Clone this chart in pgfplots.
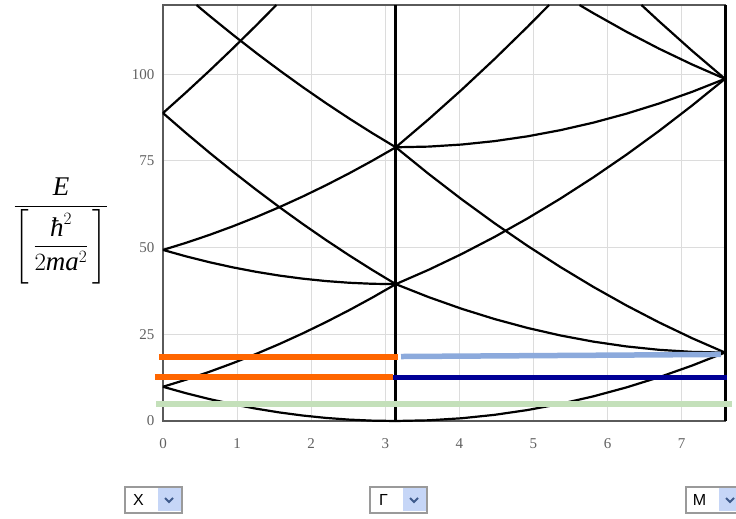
\documentclass[border=0pt]{standalone}
\usepackage{amsmath}
\usepackage{fontspec}
\setmainfont{Liberation Serif}
\newfontfamily\uifont{Liberation Sans}
\usepackage{pgfplots}
\pgfplotsset{compat=1.18}
\definecolor{framec}{HTML}{5A5A5A}
\definecolor{gridc}{HTML}{DCDCDC}
\definecolor{ticklab}{HTML}{606060}
\definecolor{orng}{HTML}{FF6600}
\definecolor{lblue}{HTML}{8CAADC}
\definecolor{dblue}{HTML}{000096}
\definecolor{lgreen}{HTML}{C4E0BA}
\definecolor{boxborder}{HTML}{9A9A9A}
\definecolor{boxfill}{HTML}{C6D6F7}
\definecolor{chev}{HTML}{3F5B8C}
\newcommand\dropbox[2]{%
 \begin{scope}[shift={(#1,6)}]
 \fill[white] (0,0) rectangle (57,26);
 \fill[boxfill] (33,1.5) rectangle (55.5,24.5);
 \draw[boxborder, line width=1.2pt] (0,0) rectangle (57,26);
 \node[font=\uifont\fontsize{16}{16}\selectfont, anchor=center, inner sep=0pt] at (13.5,13) {#2};
 \draw[chev, line width=2pt] (40,15) -- (44,11) -- (48,15);
 \end{scope}}
\newcommand\ti[1]{\text{\itshape #1}}
\begin{document}
\begin{tikzpicture}[x=1pt,y=1pt]
\path[use as bounding box] (0,0) rectangle (736,519);
\begin{axis}[
  at={(163pt,98pt)}, anchor=south west,
  width=562pt, height=416pt, scale only axis,
  xmin=0, xmax=7.58453, ymin=0, ymax=120,
  clip=false,
  xtick={0,1,2,3,4,5,6,7}, ytick={0,25,50,75,100},
  grid=major, major grid style={gridc, line width=1pt},
  axis line style={framec, line width=2.5pt},
  major tick length=0pt,
  tick label style={font=\fontsize{15}{15}\selectfont, text=ticklab},
  /pgf/number format/assume math mode=true,
  xticklabel style={yshift=-14pt},
  yticklabel style={xshift=-5pt},
  cycle list={black,solid,line width=2.2pt,line join=round,mark=none\\},
]
% X -> Gamma
\addplot coordinates {(0,9.870) (0.31416,7.994) (0.62832,6.317) (0.94248,4.836) (1.25664,3.553) (1.57080,2.467) (1.88496,1.579) (2.19911,0.888) (2.51327,0.395) (2.82743,0.099) (3.14159,0)};
\addplot coordinates {(0,9.870) (0.31416,11.942) (0.62832,14.212) (0.94248,16.680) (1.25664,19.344) (1.57080,22.207) (1.88496,25.266) (2.19911,28.523) (2.51327,31.977) (2.82743,35.629) (3.14159,39.478)};
\addplot coordinates {(0,88.826) (0.31416,83.003) (0.62832,77.378) (0.94248,71.949) (1.25664,66.718) (1.57080,61.685) (1.88496,56.849) (2.19911,52.210) (2.51327,47.769) (2.82743,43.525) (3.14159,39.478)};
\addplot coordinates {(0,49.348) (0.31416,47.473) (0.62832,45.795) (0.94248,44.315) (1.25664,43.031) (1.57080,41.946) (1.88496,41.058) (2.19911,40.367) (2.51327,39.873) (2.82743,39.577) (3.14159,39.478)};
\addplot coordinates {(0,49.348) (0.31416,51.421) (0.62832,53.691) (0.94248,56.158) (1.25664,58.823) (1.57080,61.685) (1.88496,64.745) (2.19911,68.002) (2.51327,71.456) (2.82743,75.108) (3.14159,78.957)};
\addplot coordinates {(0,88.826) (0.31416,94.847) (0.62832,101.065) (0.94248,107.480) (1.25664,114.093) (1.5300,120)};
\addplot coordinates {(0.4524,120) (0.62832,116.856) (0.94248,111.428) (1.25664,106.197) (1.57080,101.163) (1.88496,96.327) (2.19911,91.689) (2.51327,87.247) (2.82743,83.003) (3.14159,78.957)};
% Gamma -> M
\addplot coordinates {(3.14159,0) (3.58588,0.197) (4.03018,0.790) (4.47447,1.777) (4.91876,3.158) (5.36306,4.935) (5.80735,7.106) (6.25164,9.672) (6.69594,12.633) (7.14023,15.989) (7.58453,19.739)};
\addplot coordinates {(3.14159,39.478) (3.58588,35.728) (4.03018,32.372) (4.47447,29.411) (4.91876,26.845) (5.36306,24.674) (5.80735,22.897) (6.25164,21.516) (6.69594,20.529) (7.14023,19.937) (7.58453,19.739)};
\addplot coordinates {(3.14159,78.957) (3.58588,71.259) (4.03018,63.955) (4.47447,57.046) (4.91876,50.532) (5.36306,44.413) (5.80735,38.689) (6.25164,33.359) (6.69594,28.424) (7.14023,23.884) (7.58453,19.739)};
\addplot coordinates {(3.14159,39.478) (3.58588,43.624) (4.03018,48.164) (4.47447,53.098) (4.91876,58.428) (5.36306,64.152) (5.80735,70.272) (6.25164,76.785) (6.69594,83.694) (7.14023,90.998) (7.58453,98.696)};
\addplot coordinates {(3.14159,78.957) (3.58588,79.154) (4.03018,79.746) (4.47447,80.733) (4.91876,82.115) (5.36306,83.892) (5.80735,86.063) (6.25164,88.630) (6.69594,91.590) (7.14023,94.946) (7.58453,98.696)};
\addplot coordinates {(3.14159,78.957) (3.58588,87.050) (4.03018,95.538) (4.47447,104.420) (4.91876,113.698) (5.2106,120)};
\addplot coordinates {(5.6207,120) (5.80735,117.646) (6.25164,112.316) (6.69594,107.381) (7.14023,102.841) (7.58453,98.696)};
\addplot coordinates {(6.4569,120) (6.69594,115.277) (7.14023,106.789) (7.58453,98.696)};
% vertical lines at Gamma and M
\addplot[black, line width=3pt] coordinates {(3.14159,0) (3.14159,120)};
\addplot[black, line width=3pt] coordinates {(7.58453,0) (7.58453,120)};
% coloured levels
\addplot[orng, line width=6pt] coordinates {(-0.054,18.4) (3.171,18.4)};
\addplot[orng, line width=6pt] coordinates {(-0.108,12.6) (3.104,12.6)};
\addplot[lblue, line width=5.5pt] coordinates {(3.212,18.6) (7.530,19.2)};
\addplot[dblue, line width=5.5pt] coordinates {(3.104,12.5) (7.611,12.5)};
\addplot[lgreen, line width=6pt] coordinates {(-0.094,4.9) (7.679,4.9)};
\end{axis}
\node at (61,288) {\fontsize{27}{31}\selectfont $\dfrac{\ti{E}}{\left[\,\dfrac{\ti{ħ}^2}{2\ti{m}\ti{a}^2}\,\right]}$};
\dropbox{125}{X}
\dropbox{370}{Γ}
\dropbox{686}{M}
\end{tikzpicture}
\end{document}
